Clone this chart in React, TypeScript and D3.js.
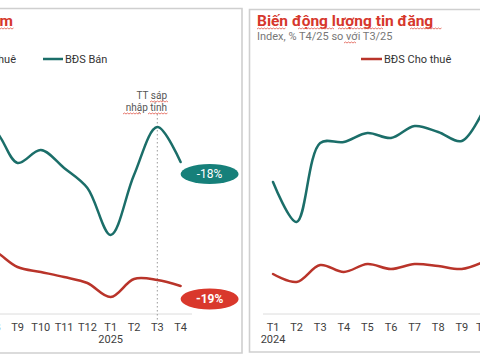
import React from "react";
import * as d3 from "d3";

const leftMonths = ["T7", "T8", "T9", "T10", "T11", "T12", "T1", "T2", "T3", "T4"];
const leftSale = [93, 92, 75.5, 82, 73, 63, 39.5, 69.5, 93.5, 76];
const leftRent = [34.5, 31.5, 23.5, 21, 18.5, 15.5, 8.5, 17.5, 17, 14];
const leftYearLabel = { month: "T1", year: "2025" };
const leftBadges = ["-18%", "-19%"];

const rightMonths = ["T1", "T2", "T3", "T4", "T5", "T6", "T7", "T8", "T9", "T10"];
const rightSale = [66, 46, 85.5, 86, 90.5, 88, 94, 91, 86.5, 104];
const rightRent = [20, 16, 24.5, 21, 25, 22.5, 25, 24, 22.5, 26.5];
const rightYearLabel = { month: "T1", year: "2024" };

const TEAL = "#1b6e69";
const TEAL_BADGE = "#16807a";
const RED = "#b9342a";
const RED_BADGE = "#d9382c";
const TITLE_RED = "#d6372c";
const FONT = "Roboto, 'Open Sans', sans-serif";

function squiggle(x1: number, x2: number, y: number) {
  let d = `M${x1},${y}`;
  let up = true;
  for (let x = x1; x < x2; x += 1.5) {
    d += ` L${x + 1.5},${y + (up ? -1 : 0)}`;
    up = !up;
  }
  return <path d={d} fill="none" stroke="#e0574a" strokeWidth={0.8} />;
}

export default function App() {
  const y = d3.scaleLinear().domain([0, 100]).range([314, 114]);
  const xl = d3.scalePoint<string>().domain(leftMonths).range([17.5 - 2 * 23.3, 17.5 + 7 * 23.3]);
  const xr = d3.scalePoint<string>().domain(rightMonths).range([273, 273 + 9 * 23.6]);
  const curve = d3.curveCatmullRom.alpha(0.5);

  const lineL = d3.line<number>().x((_, i) => xl(leftMonths[i]) as number).y((v) => y(v)).curve(curve);
  const lineR = d3.line<number>().x((_, i) => xr(rightMonths[i]) as number).y((v) => y(v)).curve(curve);

  const lastX = xl(leftMonths[leftMonths.length - 1]) as number;
  const lastSaleY = y(leftSale[leftSale.length - 1]);
  const lastRentY = y(leftRent[leftRent.length - 1]);
  const t3x = xl("T3") as number;

  return (
    <div style={{ position: "fixed", left: 0, top: 0, width: 480, height: 360, background: "#fff" }}>
      <svg width={480} height={360} style={{ display: "block", fontFamily: FONT }}>
        <rect x={0} y={0} width={480} height={360} fill="#fff" />
        {/* panel borders */}
        <path d="M-5,8.5 L242,8.5 L242,353 L-5,353" fill="none" stroke="#cfcfcf" strokeWidth={1.6} />
        <path d="M490,9.5 L249.5,9.5 L249.5,352 L490,352" fill="none" stroke="#cfcfcf" strokeWidth={1.6} />

        {/* LEFT PANEL */}
        <text x={13} y={26} textAnchor="end" fontSize={15.5} fontWeight={700} fill={TITLE_RED}>Lượng tin đăng giảm</text>
        {squiggle(0, 13, 29)}
        <line x1={-60} x2={-40} y1={59} y2={59} stroke={RED} strokeWidth={2.5} />
        <text x={16} y={63} textAnchor="end" fontSize={11} fill="#333">BĐS Cho thuê</text>
        <line x1={43} x2={63} y1={59} y2={59} stroke={TEAL} strokeWidth={2.5} />
        <text x={65} y={63} fontSize={11} fill="#333">BĐS Bán</text>

        <line x1={-5} x2={192} y1={314} y2={314} stroke="#dcdcdc" strokeWidth={1} />
        <line x1={t3x} x2={t3x} y1={114} y2={320} stroke="#9a9a9a" strokeWidth={1} strokeDasharray="1.5,2.5" />
        <text x={167} y={99} textAnchor="end" fontSize={10} fill="#555">TT sáp</text>
        <text x={167} y={111} textAnchor="end" fontSize={10} fill="#555">nhập tỉnh</text>
        {squiggle(150, 167, 102)}
        {squiggle(123, 141, 114)}
        {squiggle(148, 167, 114)}

        <path d={lineL(leftSale) || ""} fill="none" stroke={TEAL} strokeWidth={2.5} strokeLinecap="round" />
        <path d={lineL(leftRent) || ""} fill="none" stroke={RED} strokeWidth={2.5} strokeLinecap="round" />

        {leftMonths.map((m) => (
          <text key={"l" + m} x={xl(m) as number} y={331} textAnchor="middle" fontSize={11} fill="#404040">{m}</text>
        ))}
        <text x={xl(leftYearLabel.month) as number} y={343} textAnchor="middle" fontSize={11} fill="#404040">{leftYearLabel.year}</text>

        <ellipse cx={lastX + 29} cy={lastSaleY + 12} rx={29} ry={10} fill={TEAL_BADGE} />
        <text x={lastX + 29} y={lastSaleY + 16} textAnchor="middle" fontSize={12} fill="#fff">{leftBadges[0]}</text>
        <ellipse cx={lastX + 29} cy={lastRentY + 13} rx={29} ry={10.5} fill={RED_BADGE} />
        <text x={lastX + 29} y={lastRentY + 17} textAnchor="middle" fontSize={12} fontWeight={700} fill="#fff">{leftBadges[1]}</text>

        {/* RIGHT PANEL */}
        <text x={257} y={26} fontSize={15.5} fontWeight={700} fill={TITLE_RED}>Biến động lượng tin đăng</text>
        {squiggle(257, 285, 29)}
        {squiggle(298, 333, 29)}
        {squiggle(338, 382, 29)}
        {squiggle(410, 441, 29)}
        <text x={257} y={40} fontSize={11} fill="#777">Index, % T4/25 so với T3/25</text>
        {squiggle(344, 355, 43)}
        <line x1={361} x2={382} y1={59} y2={59} stroke={RED} strokeWidth={2.5} />
        <text x={384} y={63} fontSize={11} fill="#333">BĐS Cho thuê</text>

        <line x1={263} x2={490} y1={314} y2={314} stroke="#dcdcdc" strokeWidth={1} />
        <path d={lineR(rightSale) || ""} fill="none" stroke={TEAL} strokeWidth={2.5} strokeLinecap="round" />
        <path d={lineR(rightRent) || ""} fill="none" stroke={RED} strokeWidth={2.5} strokeLinecap="round" />
        {rightMonths.map((m) => (
          <text key={"r" + m} x={xr(m) as number} y={331} textAnchor="middle" fontSize={11} fill="#404040">{m}</text>
        ))}
        <text x={xr(rightYearLabel.month) as number} y={343} textAnchor="middle" fontSize={11} fill="#404040">{rightYearLabel.year}</text>
      </svg>
    </div>
  );
}
